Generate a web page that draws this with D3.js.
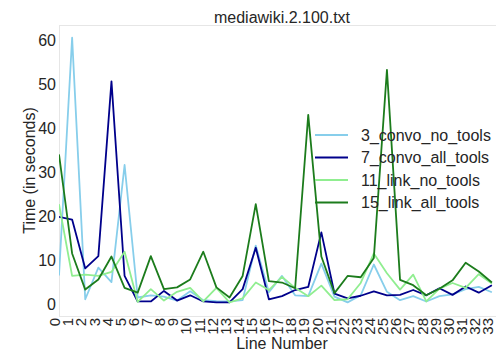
<!DOCTYPE html>
<html>
<head>
<meta charset="utf-8">
<script src="https://cdn.jsdelivr.net/npm/d3@7"></script>
<style>
  html, body { margin: 0; padding: 0; background: #fff; }
  svg { display: block; font-family: "Liberation Sans", Arial, sans-serif; }
</style>
</head>
<body>
<svg id="chart" width="496" height="352"></svg>
<script>
// Response times per line of mediawiki.2.100.txt, one array per run setting
const lineNumbers = d3.range(0, 34);
const seriesNames = ["3_convo_no_tools", "7_convo_all_tools", "11_link_no_tools", "15_link_all_tools"];
const seriesColors = ["#87ceeb", "#00008b", "#90ee90", "#1c7c1c"];

const convoNoTools = [6.5, 60.5, 1.1, 8.3, 5.0, 31.6, 1.5, 2.0, 1.7, 0.8, 2.9, 0.9, 0.7, 0.6, 0.9, 13.3, 2.7,
  6.4, 2.0, 1.8, 9.2, 1.7, 0.4, 2.0, 9.0, 2.8, 0.9, 1.8, 0.6, 1.8, 2.2, 3.4, 3.9, 2.7];
const convoAllTools = [19.8, 19.2, 8.1, 10.9, 50.6, 6.4, 0.6, 0.6, 3.0, 0.8, 2.0, 0.6, 0.4, 0.4, 3.4, 12.8, 1.1,
  1.8, 3.2, 3.9, 16.3, 2.4, 1.3, 1.9, 2.9, 2.0, 2.1, 3.2, 2.0, 3.6, 2.1, 4.0, 2.6, 4.3];
const linkNoTools = [22.7, 6.4, 6.7, 6.4, 7.3, 11.9, 0.5, 3.4, 0.8, 2.8, 3.7, 0.6, 3.7, 0.4, 1.3, 4.9, 3.2,
  6.2, 3.7, 1.8, 4.2, 0.9, 1.1, 4.8, 11.5, 7.0, 3.3, 6.7, 0.6, 3.5, 4.8, 3.7, 6.8, 4.7];
const linkAllTools = [34.0, 11.5, 3.3, 5.6, 10.8, 3.7, 2.6, 10.9, 3.4, 3.8, 5.6, 11.9, 3.8, 1.5, 6.4, 22.7, 5.2,
  4.9, 3.6, 43.0, 10.8, 2.5, 6.4, 6.1, 10.5, 53.2, 5.5, 4.3, 2.0, 3.5, 5.4, 9.4, 7.4, 4.9];
const yTicks = [0, 10, 20, 30, 40, 50, 60];

const allSeries = [convoNoTools, convoAllTools, linkNoTools, linkAllTools];

const svg = d3.select("#chart");
const plotLeft = 59, plotRight = 505, plotTop = 25, plotBottom = 316;

const x = d3.scaleLinear().domain([0, 34]).range([plotLeft, plotRight]);
const y = d3.scaleLinear().domain([-2.7, 63.4]).range([plotBottom, plotTop]);

// axes frame
svg.append("rect")
  .attr("x", plotLeft + 0.5).attr("y", plotTop + 0.5)
  .attr("width", plotRight - plotLeft).attr("height", plotBottom - plotTop)
  .attr("fill", "none").attr("stroke", "#e6e6e6").attr("stroke-width", 1);

// title
svg.append("text")
  .attr("x", (plotLeft + plotRight) / 2).attr("y", 22.5)
  .attr("text-anchor", "middle")
  .attr("font-size", 16).attr("fill", "#262626")
  .text("mediawiki.2.100.txt");

// y axis
const yAxis = d3.axisLeft(y).tickValues(yTicks).tickSize(0).tickPadding(3);
const gy = svg.append("g").attr("transform", `translate(${plotLeft},0)`).call(yAxis);
gy.select(".domain").remove();
gy.selectAll("text").attr("font-size", 16).attr("fill", "#262626")
  .attr("font-family", "Liberation Sans, Arial, sans-serif");

// x axis with vertical labels
const xAxis = d3.axisBottom(x).tickValues(lineNumbers).tickSize(0).tickFormat(d3.format("d"));
const gx = svg.append("g").attr("transform", `translate(0,${plotBottom})`).call(xAxis);
gx.select(".domain").remove();
gx.selectAll("text")
  .attr("font-size", 15).attr("fill", "#262626")
  .attr("font-family", "Liberation Sans, Arial, sans-serif")
  .attr("text-anchor", "end")
  .attr("dy", "0.05em")
  .attr("transform", "translate(0,2) rotate(-90)")
  .attr("x", 0).attr("y", 0);

// axis titles
svg.append("text")
  .attr("x", (plotLeft + plotRight) / 2).attr("y", 348.5)
  .attr("text-anchor", "middle").attr("font-size", 16).attr("fill", "#262626")
  .text("Line Number");

svg.append("text")
  .attr("transform", `translate(35,${(plotTop + plotBottom) / 2}) rotate(-90)`)
  .attr("text-anchor", "middle").attr("font-size", 16).attr("fill", "#262626")
  .text("Time (in seconds)");

// series lines
const plot = svg.append("g");
plot.append("clipPath").attr("id", "plotclip")
  .append("rect").attr("x", plotLeft).attr("y", plotTop)
  .attr("width", plotRight - plotLeft).attr("height", plotBottom - plotTop);

const line = d3.line().x((d, i) => x(lineNumbers[i])).y(d => y(d));
allSeries.forEach((vals, k) => {
  plot.append("path")
    .datum(vals)
    .attr("clip-path", "url(#plotclip)")
    .attr("fill", "none")
    .attr("stroke", seriesColors[k])
    .attr("stroke-width", 1.8)
    .attr("stroke-linejoin", "round")
    .attr("d", line);
});

// legend
const legend = svg.append("g");
seriesNames.forEach((name, k) => {
  const cy = 135 + k * 22.5;
  legend.append("line")
    .attr("x1", 315).attr("x2", 348).attr("y1", cy).attr("y2", cy)
    .attr("stroke", seriesColors[k]).attr("stroke-width", 1.8);
  legend.append("text")
    .attr("x", 361).attr("y", cy + 5.6)
    .attr("font-size", 16).attr("fill", "#262626")
    .text(name);
});
</script>
</body>
</html>
